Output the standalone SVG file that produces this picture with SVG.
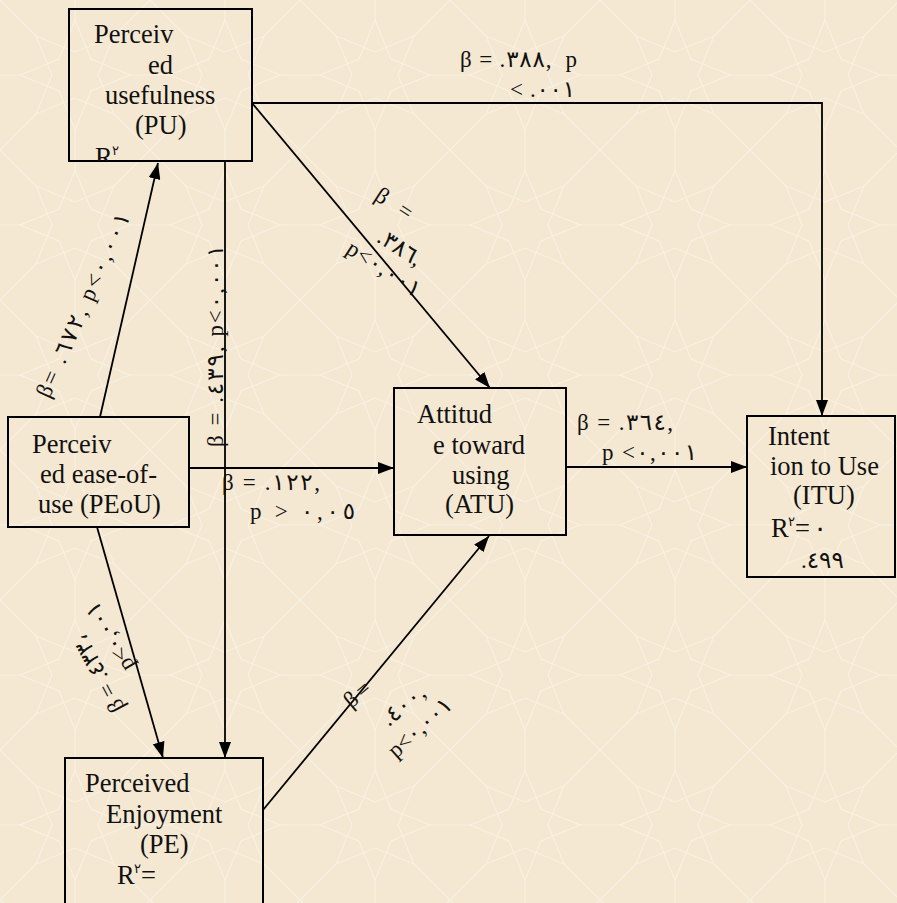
<svg xmlns="http://www.w3.org/2000/svg" width="897" height="903" viewBox="0 0 897 903">
  <style>
    .node rect { fill: none; stroke: #000; stroke-width: 2; }
    .nt { font-family: "Liberation Serif", "DejaVu Sans", serif; font-size: 26.5px; fill: #111; }
    .sup { font-family: "Liberation Serif", "DejaVu Sans", serif; font-size: 13px; fill: #111; }
    .lbl { font-family: "Liberation Serif", "DejaVu Sans", serif; font-size: 23px; fill: #111; }
    .edge { fill: none; stroke: #000; stroke-width: 1.8; marker-end: url(#arrow); }
    .pat { fill: none; stroke: #F9F1E3; stroke-width: 1.1; }
  </style>
  <defs>
    <marker id="arrow" markerUnits="userSpaceOnUse" markerWidth="16" markerHeight="12" refX="16" refY="6" orient="auto">
      <path d="M0,0 L16,6 L0,12 z" fill="#000"/>
    </marker>
    <pattern id="bg" width="150" height="150" patternUnits="userSpaceOnUse">
      <rect width="150" height="150" fill="#F4E8D2"/>
      <path class="pat" d="M75,20 L91,59 L130,75 L91,91 L75,130 L59,91 L20,75 L59,59 Z"/>
      <path class="pat" d="M36,36 L75,52 L114,36 L98,75 L114,114 L75,98 L36,114 L52,75 Z"/>
      <path class="pat" d="M0,0 L36,36 M150,0 L114,36 M0,150 L36,114 M150,150 L114,114 M75,0 L75,20 M75,130 L75,150 M0,75 L20,75 M130,75 L150,75"/>
    </pattern>
    <clipPath id="puclip"><rect x="69" y="9" width="183" height="152"/></clipPath>
  </defs>
  <rect width="897" height="903" fill="url(#bg)"/>

  <g id="connectors">
    <path class="edge" d="M252,103 H822 V416"/>
    <path class="edge" d="M252,103 L490,388"/>
    <path class="edge" d="M100,417 L158,163"/>
    <path class="edge" d="M225,162 V758"/>
    <path class="edge" d="M189,468 H394"/>
    <path class="edge" d="M97,527 L163,758"/>
    <path class="edge" d="M263,810 L489,536"/>
    <path class="edge" d="M566,467 H747"/>
  </g>

  <g id="edge-labels">
    <text class="lbl" x="460" y="67" textLength="117" lengthAdjust="spacing" xml:space="preserve">β = .٣٨٨,  p</text>
    <text class="lbl" x="510" y="97" textLength="65" lengthAdjust="spacing">&lt; .٠٠١</text>

    <text class="lbl" text-anchor="middle" textLength="40" transform="translate(390,210) rotate(33)">β =</text>
    <text class="lbl" text-anchor="middle" textLength="48" transform="translate(396,254) rotate(33)">.٣٨٦,</text>
    <text class="lbl" text-anchor="middle" textLength="84" transform="translate(380,275) rotate(33)">p&lt;٠,٠٠١</text>

    <text class="lbl" text-anchor="middle" textLength="200" transform="translate(90,308) rotate(-66)">β= .٦٧٢, p&lt;٠,٠٠١</text>

    <text class="lbl" textLength="202" transform="translate(223,447) rotate(-90)">β = .٤٣٩, p&lt;٠,٠٠١</text>

    <text class="lbl" x="222" y="490" textLength="98">β = .١٢٢,</text>
    <text class="lbl" x="250" y="519" textLength="105">p &gt; ٠,٠٥</text>

    <text class="lbl" x="577" y="430" textLength="96">β = .٣٦٤,</text>
    <text class="lbl" x="602" y="460" textLength="95">p &lt;٠,٠٠١</text>

    <text class="lbl" text-anchor="middle" textLength="85" transform="translate(105,670) rotate(-118)">β = .٤٣٣،</text>
    <text class="lbl" text-anchor="middle" textLength="76" transform="translate(116,633) rotate(-120)">p&lt;٠,٠٠١</text>

    <text class="lbl" text-anchor="middle" textLength="28" transform="translate(362,700) rotate(-40)">β=</text>
    <text class="lbl" text-anchor="middle" textLength="50" transform="translate(408,711) rotate(-40)">.٤٠٠,</text>
    <text class="lbl" text-anchor="middle" textLength="78" transform="translate(425,733) rotate(-42)">p&lt;٠,٠٠١</text>
  </g>

  <g id="PU" class="node">
    <rect x="69" y="9" width="183" height="152"/>
    <text class="nt" x="94" y="43">Perceiv</text>
    <text class="nt" x="148" y="74">ed</text>
    <text class="nt" x="105" y="104">usefulness</text>
    <text class="nt" x="135" y="134">(PU)</text>
    <g clip-path="url(#puclip)">
      <text class="nt" x="95" y="166">R</text>
      <text class="sup" x="112" y="155">٢</text>
    </g>
  </g>

  <g id="PEoU" class="node">
    <rect x="8" y="417" width="181" height="110"/>
    <text class="nt" x="32" y="453">Perceiv</text>
    <text class="nt" x="40" y="483">ed ease-of-</text>
    <text class="nt" x="38" y="513">use (PEoU)</text>
  </g>

  <g id="ATU" class="node">
    <rect x="394" y="388" width="172" height="147"/>
    <text class="nt" x="417" y="423">Attitud</text>
    <text class="nt" x="433" y="454">e toward</text>
    <text class="nt" x="452" y="484">using</text>
    <text class="nt" x="445" y="513">(ATU)</text>
  </g>

  <g id="ITU" class="node">
    <rect x="747" y="416" width="148" height="161"/>
    <text class="nt" x="768" y="445">Intent</text>
    <text class="nt" x="770" y="475">ion to Use</text>
    <text class="nt" x="793" y="504">(ITU)</text>
    <text class="nt" x="771" y="537">R</text>
    <text class="sup" x="788" y="526">٢</text>
    <text class="nt" x="795" y="537">=</text>
    <text class="nt" x="813" y="537" font-size="18">٠</text>
    <text class="lbl" x="801" y="568" font-size="17">.٤٩٩</text>
  </g>

  <g id="PE" class="node">
    <rect x="65" y="758" width="198" height="160"/>
    <text class="nt" x="85" y="792">Perceived</text>
    <text class="nt" x="106" y="823">Enjoyment</text>
    <text class="nt" x="140" y="853">(PE)</text>
    <text class="nt" x="117" y="884">R</text>
    <text class="sup" x="134" y="873">٢</text>
    <text class="nt" x="141" y="884">=</text>
  </g>
</svg>
